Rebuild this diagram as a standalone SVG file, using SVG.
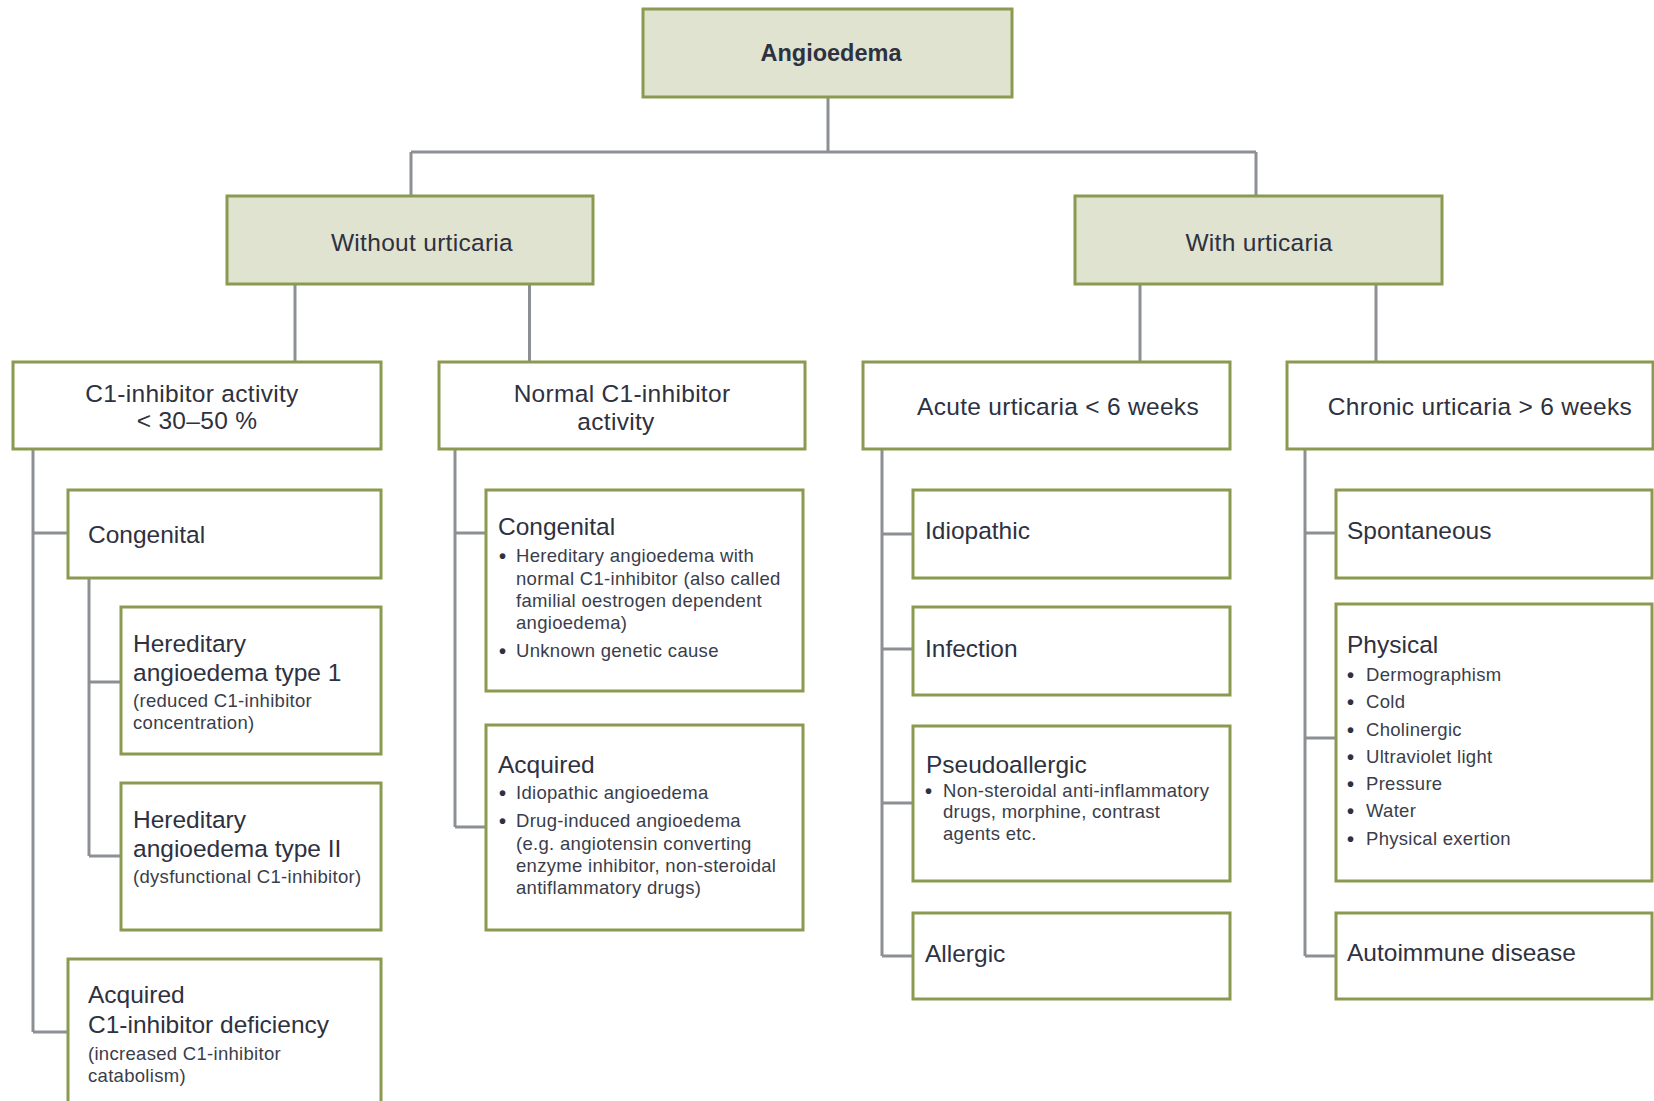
<svg xmlns="http://www.w3.org/2000/svg" width="1654" height="1101" viewBox="0 0 1654 1101">
<style>
.box{fill:#ffffff;stroke:#8a9a50;stroke-width:3}
.hdr{fill:#dfe3d0;stroke:#8a9a50;stroke-width:3}
.con{fill:none;stroke:#8c9094;stroke-width:3}
text{font-family:"Liberation Sans",Arial,sans-serif;fill:#2e3140}
.t{font-size:24.5px}
.tc{font-size:24.5px;text-anchor:middle;letter-spacing:0.3px}
.s{font-size:18.5px;fill:#3a3d4a;letter-spacing:0.3px}
.d{font-size:20px;font-weight:bold;fill:#2e3140}
.b{font-size:23.5px;font-weight:bold;text-anchor:middle}
</style>
<g id="connectors">
<path class="con" d="M828 97V152M411 152H1256M411 152V196M1256 152V196"/>
<path class="con" d="M295 284V362M529.5 284V362M1140 284V362M1376 284V362"/>
<path class="con" d="M33 449V1032M33 533H68M33 1032H68"/>
<path class="con" d="M89 578V856M89 682H121M89 856H121"/>
<path class="con" d="M455 449V827M455 533H486M455 827H486"/>
<path class="con" d="M882 449V956M882 534H913M882 649H913M882 803H913M882 956H913"/>
<path class="con" d="M1305 449V956M1305 533H1336M1305 738H1336M1305 956H1336"/>
</g>
<g id="root"><rect class="hdr" x="643" y="9" width="369" height="88"/><text class="b" x="831" y="61">Angioedema</text></g>
<g id="without"><rect class="hdr" x="227" y="196" width="366" height="88"/><text class="tc" x="422" y="251">Without urticaria</text></g>
<g id="with"><rect class="hdr" x="1075" y="196" width="367" height="88"/><text class="tc" x="1259" y="251">With urticaria</text></g>
<g id="c1low"><rect class="box" x="13" y="362" width="368" height="87"/><text class="tc" x="192" y="402">C1-inhibitor activity</text><text class="tc" x="197" y="429">&lt; 30–50 %</text></g>
<g id="normalc1"><rect class="box" x="439" y="362" width="366" height="87"/><text class="tc" x="622" y="402">Normal C1-inhibitor</text><text class="tc" x="616" y="430">activity</text></g>
<g id="acute"><rect class="box" x="863" y="362" width="367" height="87"/><text class="tc" x="1058" y="415">Acute urticaria &lt; 6 weeks</text></g>
<g id="chronic"><rect class="box" x="1287" y="362" width="366" height="87"/><text class="tc" x="1480" y="415">Chronic urticaria &gt; 6 weeks</text></g>
<g id="congenital1"><rect class="box" x="68" y="490" width="313" height="88"/><text class="t" x="88" y="543">Congenital</text></g>
<g id="hae1"><rect class="box" x="121" y="607" width="260" height="147"/><text class="t" x="133" y="652">Hereditary</text><text class="t" x="133" y="681">angioedema type 1</text><text class="s" x="133" y="707">(reduced C1-inhibitor</text><text class="s" x="133" y="729">concentration)</text></g>
<g id="hae2"><rect class="box" x="121" y="783" width="260" height="147"/><text class="t" x="133" y="828">Hereditary</text><text class="t" x="133" y="857">angioedema type II</text><text class="s" x="133" y="883">(dysfunctional C1-inhibitor)</text></g>
<g id="acquiredc1"><rect class="box" x="68" y="959" width="313" height="160"/><text class="t" x="88" y="1003">Acquired</text><text class="t" x="88" y="1033">C1-inhibitor deficiency</text><text class="s" x="88" y="1060">(increased C1-inhibitor</text><text class="s" x="88" y="1082">catabolism)</text></g>
<g id="congenital2"><rect class="box" x="486" y="490" width="317" height="201"/><text class="t" x="498" y="535">Congenital</text>
<text class="d" x="499" y="563">•</text><text class="s" x="516" y="562">Hereditary angioedema with</text>
<text class="s" x="516" y="585">normal C1-inhibitor (also called</text>
<text class="s" x="516" y="607">familial oestrogen dependent</text>
<text class="s" x="516" y="629">angioedema)</text>
<text class="d" x="499" y="658">•</text><text class="s" x="516" y="657">Unknown genetic cause</text></g>
<g id="acquired2"><rect class="box" x="486" y="725" width="317" height="205"/><text class="t" x="498" y="773">Acquired</text>
<text class="d" x="499" y="800">•</text><text class="s" x="516" y="799">Idiopathic angioedema</text>
<text class="d" x="499" y="828">•</text><text class="s" x="516" y="827">Drug-induced angioedema</text>
<text class="s" x="516" y="850">(e.g. angiotensin converting</text>
<text class="s" x="516" y="872">enzyme inhibitor, non-steroidal</text>
<text class="s" x="516" y="894">antiflammatory drugs)</text></g>
<g id="idiopathic"><rect class="box" x="913" y="490" width="317" height="88"/><text class="t" x="925" y="539">Idiopathic</text></g>
<g id="infection"><rect class="box" x="913" y="607" width="317" height="88"/><text class="t" x="925" y="657">Infection</text></g>
<g id="pseudoallergic"><rect class="box" x="913" y="726" width="317" height="155"/><text class="t" x="926" y="773">Pseudoallergic</text>
<text class="d" x="925" y="798">•</text><text class="s" x="943" y="797">Non-steroidal anti-inflammatory</text>
<text class="s" x="943" y="818">drugs, morphine, contrast</text>
<text class="s" x="943" y="840">agents etc.</text></g>
<g id="allergic"><rect class="box" x="913" y="913" width="317" height="86"/><text class="t" x="925" y="962">Allergic</text></g>
<g id="spontaneous"><rect class="box" x="1336" y="490" width="316" height="88"/><text class="t" x="1347" y="539">Spontaneous</text></g>
<g id="physical"><rect class="box" x="1336" y="604" width="316" height="277"/><text class="t" x="1347" y="653">Physical</text>
<text class="d" x="1347" y="682">•</text><text class="s" x="1366" y="681">Dermographism</text>
<text class="d" x="1347" y="709">•</text><text class="s" x="1366" y="708">Cold</text>
<text class="d" x="1347" y="737">•</text><text class="s" x="1366" y="736">Cholinergic</text>
<text class="d" x="1347" y="764">•</text><text class="s" x="1366" y="763">Ultraviolet light</text>
<text class="d" x="1347" y="791">•</text><text class="s" x="1366" y="790">Pressure</text>
<text class="d" x="1347" y="818">•</text><text class="s" x="1366" y="817">Water</text>
<text class="d" x="1347" y="846">•</text><text class="s" x="1366" y="845">Physical exertion</text></g>
<g id="autoimmune"><rect class="box" x="1336" y="913" width="316" height="86"/><text class="t" x="1347" y="961">Autoimmune disease</text></g>
</svg>
